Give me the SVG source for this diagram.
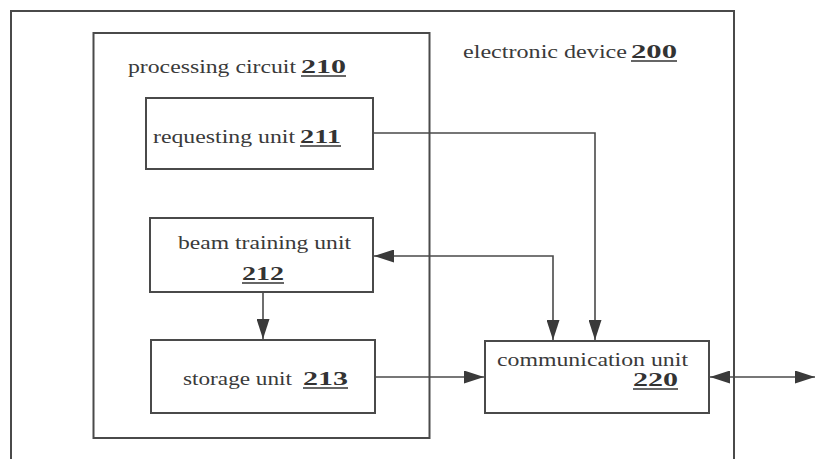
<svg xmlns="http://www.w3.org/2000/svg" width="815" height="459" viewBox="0 0 815 459">
<style>
.box{fill:none;stroke:#4a4a4a;stroke-width:2}
.con{fill:none;stroke:#4a4a4a;stroke-width:1.6}
.t{font-family:"Liberation Serif","Times New Roman",serif;font-size:18px;fill:#3a3a3a}
.n{font-family:"Liberation Serif","Times New Roman",serif;font-size:18px;font-weight:bold;fill:#333}
.ul{stroke:#333;stroke-width:1.5}
</style>
<defs>
<marker id="ah" markerUnits="userSpaceOnUse" markerWidth="20" markerHeight="13" refX="20" refY="6.5" orient="auto-start-reverse">
<path d="M0,0 L20,6.5 L0,13 z" fill="#3a3a3a"/>
</marker>
</defs>
<rect width="815" height="459" fill="#fff"/>
<g id="electronic-device-200">
<path class="box" d="M11,470 V11 H734 V470"/>
<text class="t" x="463" y="58" textLength="164" lengthAdjust="spacingAndGlyphs">electronic device</text>
<text class="n" x="631" y="58" textLength="46" lengthAdjust="spacingAndGlyphs">200</text>
<line class="ul" x1="631" y1="61" x2="677" y2="61"/>
</g>
<g id="processing-circuit-210">
<rect class="box" x="93.5" y="33" width="336" height="405"/>
<text class="t" x="128" y="73" textLength="168" lengthAdjust="spacingAndGlyphs">processing circuit</text>
<text class="n" x="301" y="73" textLength="45" lengthAdjust="spacingAndGlyphs">210</text>
<line class="ul" x1="301" y1="76" x2="346" y2="76"/>
</g>
<g id="requesting-unit-211">
<rect class="box" x="146" y="98" width="227" height="71"/>
<text class="t" x="153" y="143" textLength="142" lengthAdjust="spacingAndGlyphs">requesting unit</text>
<text class="n" x="300" y="143" textLength="41" lengthAdjust="spacingAndGlyphs">211</text>
<line class="ul" x1="300" y1="146" x2="341" y2="146"/>
</g>
<g id="beam-training-unit-212">
<rect class="box" x="150" y="218" width="223" height="74"/>
<text class="t" x="178" y="249" textLength="173" lengthAdjust="spacingAndGlyphs">beam training unit</text>
<text class="n" x="242" y="280" textLength="42" lengthAdjust="spacingAndGlyphs">212</text>
<line class="ul" x1="242" y1="283" x2="284" y2="283"/>
</g>
<g id="storage-unit-213">
<rect class="box" x="151" y="340" width="224" height="73"/>
<text class="t" x="183" y="385" textLength="109" lengthAdjust="spacingAndGlyphs">storage unit</text>
<text class="n" x="303" y="385" textLength="45" lengthAdjust="spacingAndGlyphs">213</text>
<line class="ul" x1="303" y1="388" x2="348" y2="388"/>
</g>
<g id="communication-unit-220">
<rect class="box" x="485" y="341" width="224" height="72"/>
<text class="t" x="497" y="366" textLength="191" lengthAdjust="spacingAndGlyphs">communication unit</text>
<text class="n" x="633" y="386" textLength="45" lengthAdjust="spacingAndGlyphs">220</text>
<line class="ul" x1="633" y1="389" x2="678" y2="389"/>
</g>
<g id="connectors">
<path class="con" d="M373,133 H595 V340" marker-end="url(#ah)"/>
<path class="con" d="M553,340 V256 H374" marker-start="url(#ah)" marker-end="url(#ah)"/>
<path class="con" d="M263,292 V339" marker-end="url(#ah)"/>
<path class="con" d="M375,377 H484" marker-end="url(#ah)"/>
<path class="con" d="M710,377 H815" marker-start="url(#ah)" marker-end="url(#ah)"/>
</g>
</svg>
